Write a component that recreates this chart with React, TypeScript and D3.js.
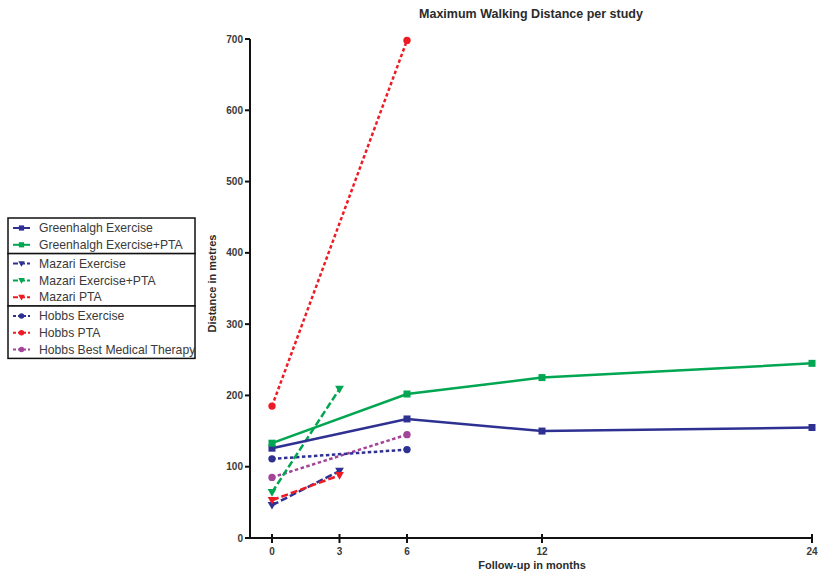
import { useEffect, useRef } from 'react';
import * as d3 from 'd3';

const months = [0, 3, 6, 12, 24];
const yTicks = [0, 100, 200, 300, 400, 500, 600, 700];

const seriesNames = [
  'Greenhalgh Exercise',
  'Greenhalgh Exercise+PTA',
  'Mazari Exercise',
  'Mazari Exercise+PTA',
  'Mazari PTA',
  'Hobbs Exercise',
  'Hobbs PTA',
  'Hobbs Best Medical Therapy',
];
const seriesMonths = [
  [0, 6, 12, 24],
  [0, 6, 12, 24],
  [0, 3],
  [0, 3],
  [0, 3],
  [0, 6],
  [0, 6],
  [0, 6],
];
const seriesValues = [
  [126, 167, 150, 155],
  [133, 202, 225, 245],
  [46, 94],
  [64, 209],
  [53, 88],
  [111, 124],
  [185, 698],
  [85, 145],
];
const seriesColors = ['#2e3192', '#00a651', '#2e3192', '#00a651', '#ed1c24', '#2e3192', '#ed1c24', '#a3449b'];
const seriesMarkers = ['square', 'square', 'tri', 'tri', 'tri', 'circle', 'circle', 'circle'];
const seriesDash = ['none', 'none', '7,3', '7,3', '7,3', '3.5,2.5', '3.5,2.5', '3.5,2.5'];
const legendGroups = [[0, 1], [2, 3, 4], [5, 6, 7]];

const W = 821;
const H = 577;

export default function App() {
  const svgRef = useRef<SVGSVGElement>(null);

  useEffect(() => {
    if (!svgRef.current) return;
    const svg = d3.select(svgRef.current);
    svg.selectAll('*').remove();

    const font = 'Liberation Sans, Arial, Helvetica, sans-serif';
    const textCol = '#2b2b2b';

    const x = d3.scaleLinear().domain([0, 24]).range([272, 812]);
    const y = d3.scaleLinear().domain([0, 700]).range([538, 39]);

    const drawMarker = (g: any, kind: string, cx: number, cy: number, color: string, s: number) => {
      if (kind === 'square') {
        g.append('rect').attr('x', cx - s).attr('y', cy - s).attr('width', 2 * s).attr('height', 2 * s).attr('fill', color);
      } else if (kind === 'circle') {
        g.append('circle').attr('cx', cx).attr('cy', cy).attr('r', s * 1.05).attr('fill', color);
      } else {
        const t = s * 1.25;
        g.append('path')
          .attr('d', `M${cx - t},${cy - t * 0.75}L${cx + t},${cy - t * 0.75}L${cx},${cy + t}Z`)
          .attr('fill', color);
      }
    };

    // title
    svg.append('text')
      .attr('x', 531).attr('y', 18)
      .attr('text-anchor', 'middle')
      .attr('font-family', font).attr('font-size', 12.5).attr('font-weight', 'bold')
      .attr('fill', textCol)
      .text('Maximum Walking Distance per study');

    // y axis
    const yAxis = svg.append('g').attr('transform', 'translate(250,0)');
    yAxis.append('line').attr('x1', 0).attr('x2', 0).attr('y1', y(700)).attr('y2', y(0))
      .attr('stroke', '#111').attr('stroke-width', 2);
    yTicks.forEach(t => {
      yAxis.append('line').attr('x1', -5).attr('x2', 0).attr('y1', y(t)).attr('y2', y(t))
        .attr('stroke', '#111').attr('stroke-width', 2);
      yAxis.append('text').attr('x', -7).attr('y', y(t)).attr('dy', '0.35em')
        .attr('text-anchor', 'end')
        .attr('font-family', font).attr('font-size', 10).attr('font-weight', 'bold')
        .attr('fill', '#3a3a3a')
        .text(t);
    });
    svg.append('text')
      .attr('transform', `translate(216,${y(350) - 5}) rotate(-90)`)
      .attr('text-anchor', 'middle')
      .attr('font-family', font).attr('font-size', 11).attr('font-weight', 'bold')
      .attr('fill', textCol)
      .text('Distance in metres');

    // x axis
    const xAxis = svg.append('g').attr('transform', `translate(0,${y(0)})`);
    xAxis.append('line').attr('x1', 250).attr('x2', x(24)).attr('y1', 0).attr('y2', 0)
      .attr('stroke', '#111').attr('stroke-width', 2);
    months.forEach(m => {
      xAxis.append('line').attr('x1', x(m)).attr('x2', x(m)).attr('y1', -4).attr('y2', 5)
        .attr('stroke', '#111').attr('stroke-width', 2);
      xAxis.append('text').attr('x', x(m)).attr('y', 17)
        .attr('text-anchor', 'middle')
        .attr('font-family', font).attr('font-size', 10).attr('font-weight', 'bold')
        .attr('fill', '#3a3a3a')
        .text(m);
    });
    svg.append('text')
      .attr('x', 532).attr('y', 569)
      .attr('text-anchor', 'middle')
      .attr('font-family', font).attr('font-size', 11).attr('font-weight', 'bold')
      .attr('fill', textCol)
      .text('Follow-up in months');

    // series
    const line = d3.line<[number, number]>().x(d => x(d[0])).y(d => y(d[1]));
    const order = [7, 5, 2, 4, 3, 6, 0, 1];
    order.forEach(i => {
      const pts: [number, number][] = seriesMonths[i].map((m, j) => [m, seriesValues[i][j]]);
      svg.append('path')
        .attr('d', line(pts))
        .attr('fill', 'none')
        .attr('stroke', seriesColors[i])
        .attr('stroke-width', 2.5)
        .attr('stroke-dasharray', seriesDash[i]);
      const mg = svg.append('g');
      pts.forEach(p => drawMarker(mg, seriesMarkers[i], x(p[0]), y(p[1]), seriesColors[i], 3.5));
    });

    // legend
    const lg = svg.append('g');
    const rowH = 16.8;
    let top = 218;
    legendGroups.forEach(group => {
      const h = group.length * rowH + 2;
      lg.append('rect').attr('x', 8).attr('y', top).attr('width', 187).attr('height', h)
        .attr('fill', 'white').attr('stroke', '#111').attr('stroke-width', 1.5);
      group.forEach((i, k) => {
        const cy = top + 10 + k * rowH;
        lg.append('line').attr('x1', 13).attr('x2', 30).attr('y1', cy).attr('y2', cy)
          .attr('stroke', seriesColors[i]).attr('stroke-width', 2)
          .attr('stroke-dasharray', seriesDash[i] === 'none' ? 'none' : seriesDash[i] === '7,3' ? '5,2' : '3,2');
        drawMarker(lg, seriesMarkers[i], 21.5, cy, seriesColors[i], 2.6);
        lg.append('text').attr('x', 39).attr('y', cy).attr('dy', '0.35em')
          .attr('font-family', font).attr('font-size', 12.2)
          .attr('fill', '#3a3a3a')
          .text(seriesNames[i]);
      });
      top += h;
    });
  }, []);

  return (
    <svg ref={svgRef} width={W} height={H} style={{ position: 'absolute', left: 0, top: 0, background: 'white' }} />
  );
}
